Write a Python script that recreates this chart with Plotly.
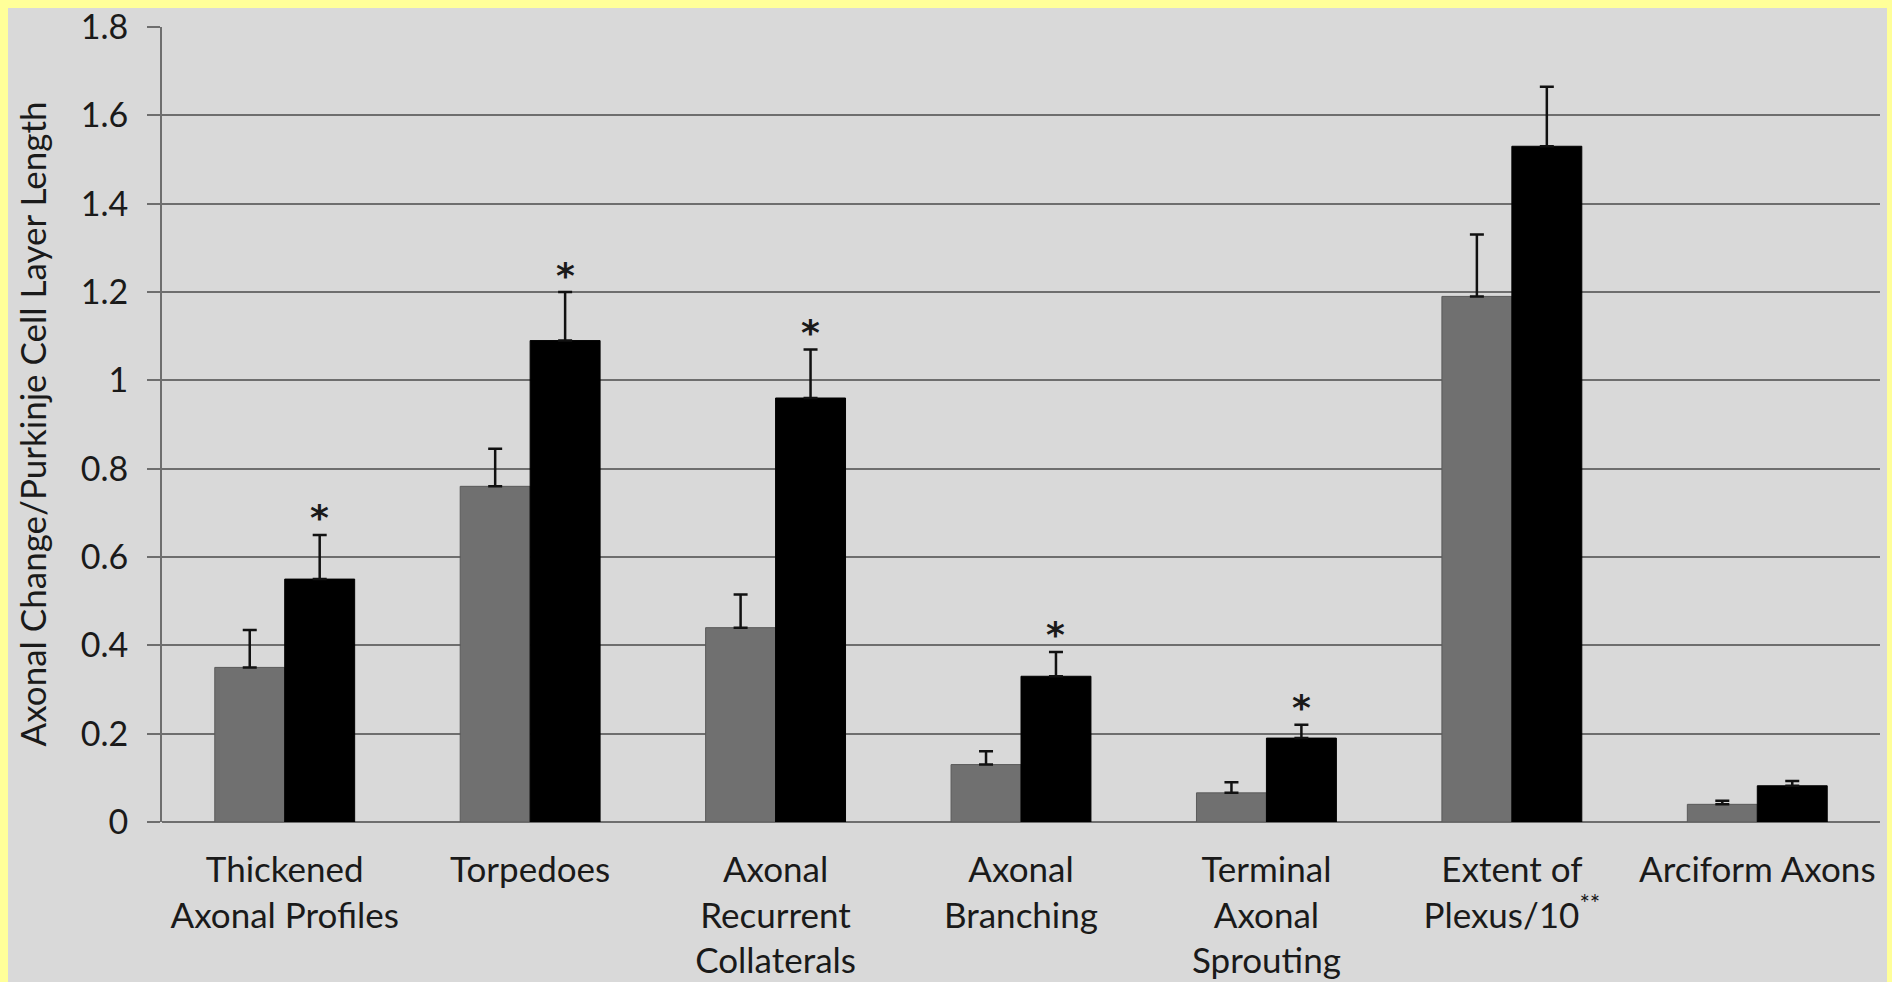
import plotly.graph_objects as go

# Axonal changes per unit Purkinje cell layer length, two groups
categories = [
    "Thickened<br>Axonal Profiles",
    "Torpedoes",
    "Axonal<br>Recurrent<br>Collaterals",
    "Axonal<br>Branching",
    "Terminal<br>Axonal<br>Sprouting",
    "Extent of<br>Plexus/10<sup>**</sup>",
    "Arciform Axons",
]
control_values = [0.35, 0.76, 0.44, 0.13, 0.066, 1.19, 0.040]
control_err = [0.085, 0.085, 0.075, 0.03, 0.024, 0.14, 0.008]
treated_values = [0.55, 1.09, 0.96, 0.33, 0.19, 1.53, 0.082]
treated_err = [0.10, 0.11, 0.11, 0.055, 0.03, 0.135, 0.011]
significant = [True, True, True, True, True, False, False]

y_ticks = [0, 0.2, 0.4, 0.6, 0.8, 1.0, 1.2, 1.4, 1.6, 1.8]
y_tick_text = ["0", "0.2", "0.4", "0.6", "0.8", "1", "1.2", "1.4", "1.6", "1.8"]
y_title = "Axonal Change/Purkinje Cell Layer Length"

FONT = "Lato, 'Open Sans', sans-serif"
TEXT = "#1a1a1a"
PANEL = "#d9d9d9"
BORDER = "#ffff99"
GRID = "#6e6e6e"

W, H = 1892, 982
L, R, T, B = 162, 12, 27, 160
pw, ph = W - L - R, H - T - B


def px_to_paper_x(px):
    return (px - L) / pw


def px_to_paper_y(py):
    return (H - B - py) / ph


fig = go.Figure()

fig.add_trace(go.Bar(
    x=categories, y=control_values, name="Control",
    marker=dict(color="#707070", line=dict(color="#5a5a5a", width=1)),
    error_y=dict(type="data", symmetric=False, array=control_err,
                 arrayminus=[0] * len(control_err),
                 color="#111111", thickness=2.5, width=7),
))
fig.add_trace(go.Bar(
    x=categories, y=treated_values, name="Treated",
    marker=dict(color="#000000", line=dict(color="#000000", width=1)),
    error_y=dict(type="data", symmetric=False, array=treated_err,
                 arrayminus=[0] * len(treated_err),
                 color="#111111", thickness=2.5, width=7),
))

# significance markers above the second bar of each group
cat_w = pw / len(categories)
bar_w = cat_w * (1 - 0.43) / 2
for cat, v, e, sig in zip(categories, treated_values, treated_err, significant):
    if sig:
        fig.add_annotation(
            x=cat, y=v + e, xref="x", yref="y", text="*", showarrow=False,
            xshift=bar_w / 2, yanchor="middle", yshift=17,
            font=dict(family="DejaVu Sans", size=36, color=TEXT, weight="bold"),
        )

# y-axis title
fig.add_annotation(
    x=px_to_paper_x(31), y=0.5, xref="paper", yref="paper",
    text=y_title, textangle=-90, showarrow=False,
    xanchor="center", yanchor="middle",
    font=dict(family=FONT, size=35, color=TEXT),
)

# grey panel inside the yellow frame
fig.add_shape(
    type="rect", xref="paper", yref="paper", layer="below",
    x0=px_to_paper_x(8), x1=px_to_paper_x(1887),
    y0=px_to_paper_y(H + 5), y1=px_to_paper_y(8),
    fillcolor=PANEL, line=dict(width=0),
)

fig.update_layout(
    width=W, height=H,
    margin=dict(l=L, r=R, t=T, b=B, autoexpand=False),
    paper_bgcolor=BORDER, plot_bgcolor=PANEL,
    barmode="group", bargap=0.43, bargroupgap=0,
    showlegend=False,
    font=dict(family=FONT, color=TEXT),
    xaxis=dict(
        showline=False, ticks="", showgrid=False,
        tickfont=dict(family=FONT, size=35, color=TEXT),
        ticklabelstandoff=24,
    ),
    yaxis=dict(
        range=[0, 1.8], tickvals=y_ticks, ticktext=y_tick_text,
        showgrid=True, gridcolor=GRID, gridwidth=2,
        showline=True, linecolor=GRID, linewidth=2,
        ticks="outside", ticklen=13, tickcolor=GRID, tickwidth=2,
        zeroline=True, zerolinecolor=GRID, zerolinewidth=2,
        tickfont=dict(family=FONT, size=34, color=TEXT),
        ticklabelstandoff=12,
    ),
)

fig.write_html("out.html")
